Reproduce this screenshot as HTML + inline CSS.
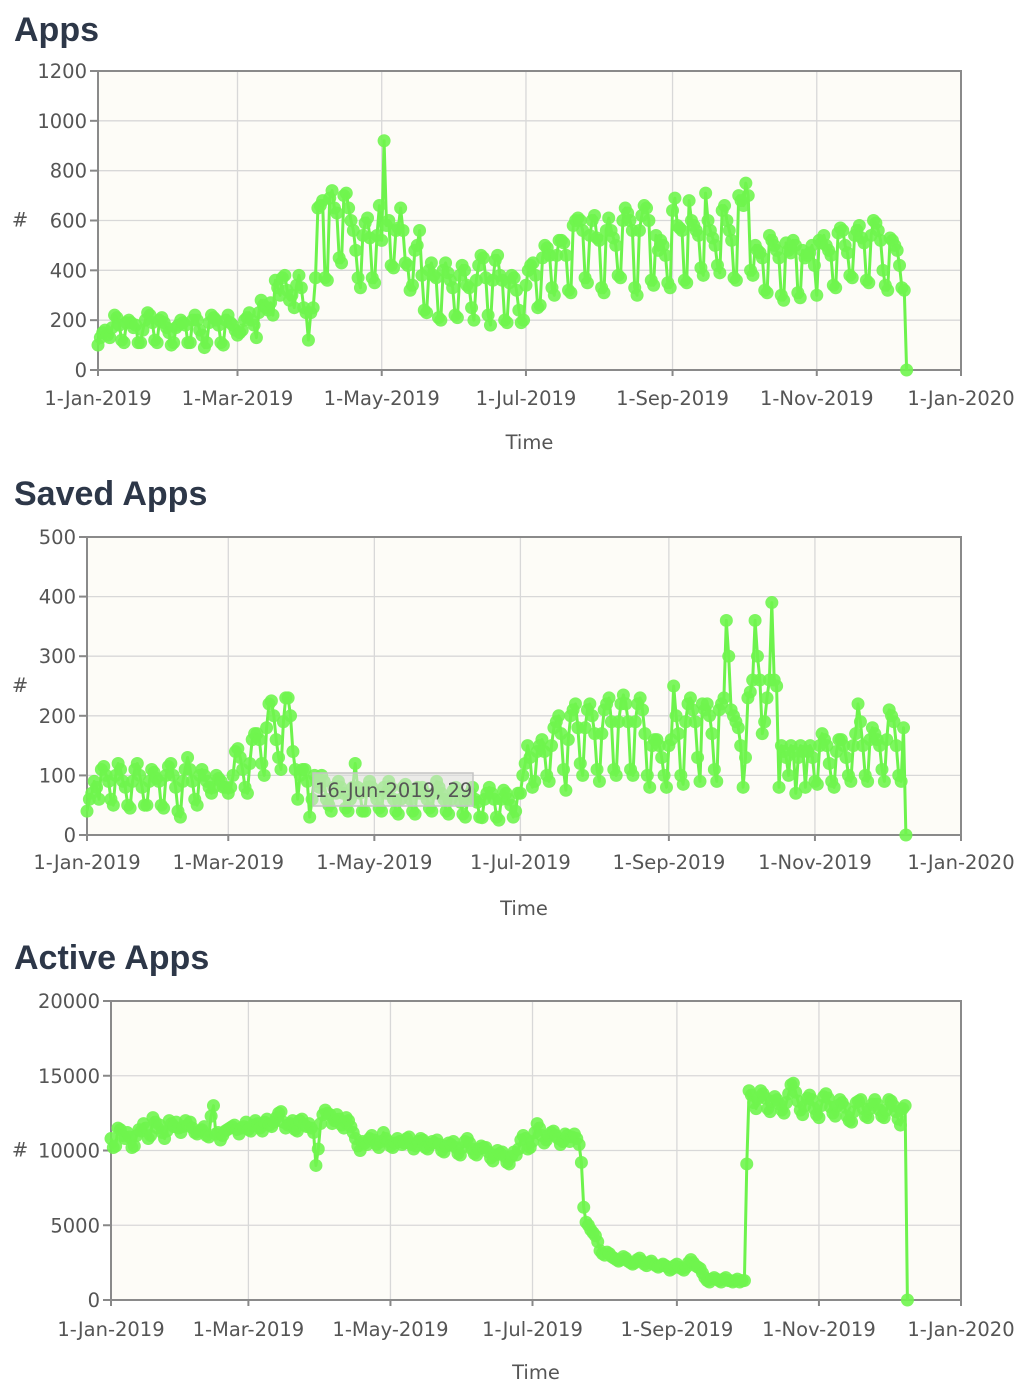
<!DOCTYPE html>
<html><head><meta charset="utf-8">
<style>
html,body{margin:0;padding:0;background:#fff;width:1030px;height:1392px;overflow:hidden}
svg{display:block}
.t{font-family:"Liberation Sans",sans-serif;font-weight:bold;font-size:34px;fill:#2d3748}
.tk{font-family:"DejaVu Sans",sans-serif;font-size:19.5px;fill:#555}
</style></head><body>
<svg id="s" width="1030" height="1392" xmlns="http://www.w3.org/2000/svg">
<text class="t" x="14" y="41">Apps</text>
<text class="t" x="14" y="505">Saved Apps</text>
<text class="t" x="14" y="969">Active Apps</text>
</svg>
<script>
const xTickLabels=["1-Jan-2019","1-Mar-2019","1-May-2019","1-Jul-2019","1-Sep-2019","1-Nov-2019","1-Jan-2020"];
const xTickDays=[0,59,120,181,243,304,365];
const appsTicks=[0,200,400,600,800,1000,1200];
const savedTicks=[0,100,200,300,400,500];
const activeTicks=[0,5000,10000,15000,20000];
const appsValues=[
100,130,150,160,140,130,170,220,210,180,120,110,190,200,190,170,180,110,110,160,200,230,220,190,120,110,200,210,
190,170,150,100,110,170,180,200,190,180,110,110,200,220,200,160,140,90,110,190,220,210,200,180,110,100,200,220,
190,180,160,140,150,160,200,210,230,200,180,130,230,280,260,250,240,270,220,360,330,300,370,380,320,280,300,250,
340,380,330,250,230,120,230,250,370,650,660,680,370,360,690,720,650,630,450,430,700,710,650,600,560,480,370,330,
540,590,610,530,370,350,540,660,520,920,580,600,420,410,560,570,650,560,430,420,320,340,480,500,560,380,240,230,
400,430,380,370,210,200,400,430,390,360,330,220,210,380,420,400,340,330,250,200,360,420,460,450,370,220,180,360,
440,460,380,360,200,190,350,380,370,320,240,190,200,340,400,420,430,380,250,260,450,500,490,460,330,300,460,520,
520,510,460,320,310,580,600,610,600,560,370,350,540,600,620,530,520,330,310,560,610,560,530,500,380,370,600,650,
630,600,560,330,300,560,620,660,650,600,360,340,540,480,520,500,460,350,330,640,690,580,570,560,360,350,680,600,
580,560,540,410,380,710,600,560,530,500,420,390,640,660,600,560,520,370,360,700,680,660,750,700,400,380,500,480,
470,450,320,310,540,520,500,480,450,300,280,510,480,470,520,500,310,290,480,450,460,470,500,420,300,520,510,540,
500,480,460,340,330,550,570,560,500,470,380,370,540,560,580,530,510,360,350,540,600,590,560,520,400,340,320,530,
520,500,480,420,330,320,0];
const savedValues=[
40,60,70,90,80,60,110,115,100,90,60,50,100,120,110,90,80,50,45,90,110,120,100,80,50,50,90,110,
105,95,90,50,45,100,115,120,100,80,40,30,90,110,130,110,90,60,50,100,110,100,90,80,70,80,100,95,
90,80,80,70,80,100,140,145,130,110,80,70,120,160,170,170,160,120,100,180,220,225,200,160,130,110,190,230,
230,200,140,110,60,100,110,110,90,30,60,100,90,80,100,90,60,50,40,80,70,90,80,70,45,40,60,80,
120,80,70,40,40,80,90,80,70,60,45,40,80,70,90,80,60,40,35,60,80,85,70,60,40,35,80,70,
80,70,60,45,40,70,90,80,70,60,40,35,60,75,80,70,55,35,30,60,70,80,60,55,30,29,60,70,
80,70,60,30,25,60,75,70,60,50,30,40,70,70,100,120,150,130,80,90,140,150,160,140,100,90,150,180,
190,200,170,110,75,160,200,210,220,180,120,100,180,210,220,200,170,110,90,170,210,220,230,190,110,100,190,220,
235,220,190,110,100,190,220,230,210,170,100,80,150,160,160,150,130,100,80,150,160,250,200,170,100,85,190,220,
230,210,190,130,90,220,210,220,200,170,110,90,210,220,230,360,300,210,200,190,180,150,80,130,230,240,260,360,
300,260,170,190,230,260,390,260,250,80,150,140,130,100,150,140,70,130,150,140,80,140,150,130,90,85,150,170,
160,150,120,90,80,140,160,160,150,130,100,90,150,170,220,190,150,100,90,160,180,170,160,150,110,90,160,210,
200,190,150,100,90,180,0];
const activeValues=[
10800,10200,10300,11500,11400,11000,10800,11200,10900,10200,10300,11000,11400,11300,
11800,11500,10800,11000,12200,11900,11500,11700,11200,10800,11300,12000,11800,11600,
11900,11500,11200,11600,12000,11700,11900,11500,11200,11100,11300,11400,11600,11000,
10900,12300,13000,11100,11200,10700,11000,11300,11400,11500,11600,11700,11400,11100,
11500,11600,11900,11400,11300,11700,12000,11800,11500,11300,11900,12100,11700,11600,
11900,12200,12500,12600,11900,11500,11700,11800,12000,11400,11300,12000,12100,11700,
11600,11800,11500,11200,9000,10100,11800,12400,12700,12500,12400,11800,12000,12400,
12100,11700,11500,12200,12000,11600,11200,10800,10300,10000,10600,10500,10400,10800,
11000,10700,10400,10200,10600,11200,10800,10600,10300,10200,10500,10800,10600,10400,
10500,10800,10900,10400,10100,10300,10600,10800,10700,10200,10100,10400,10600,10500,
10700,10400,10000,9900,10300,10500,10400,10600,10200,9800,9700,10200,10600,10800,
10500,10100,9800,9700,10100,10300,10200,10200,9900,9500,9300,9700,10000,9800,
9900,9600,9200,9100,9600,9900,9700,10100,10700,11000,10800,10100,10200,10600,
11200,11800,11500,11000,10500,10700,11000,11200,11300,11000,10800,10400,10600,11100,
11000,10600,10900,11100,10800,10400,9200,6200,5200,5000,4700,4500,4300,3900,
3300,3100,3000,3200,3100,2900,2800,2700,2600,2700,2900,2800,2600,2500,
2400,2500,2700,2800,2600,2400,2300,2500,2600,2400,2300,2200,2300,2400,
2300,2200,2000,2100,2300,2400,2200,2100,2000,2200,2500,2700,2500,2300,
2200,2100,1800,1500,1300,1200,1400,1500,1400,1300,1200,1400,1500,1300,
1300,1200,1300,1400,1200,1300,1300,9100,14000,13700,13200,12800,13500,14000,
13800,13500,12800,12600,13300,13600,13400,13100,12700,12500,13200,13800,14400,14500,
13900,13300,12700,12400,13000,13500,13700,13400,12800,12400,12200,13000,13600,13800,
13500,12900,12500,12300,13000,13400,13200,12900,12300,12000,11900,12600,13200,13300,
13400,12800,12300,12200,12800,13100,13400,13100,12700,12300,12200,12700,13400,13300,
13000,12600,12100,11700,12800,13000,0];

const svg=document.getElementById('s');
const NS='http://www.w3.org/2000/svg';
function el(tag,attrs,parent){const e=document.createElementNS(NS,tag);for(const k in attrs)e.setAttribute(k,attrs[k]);(parent||svg).appendChild(e);return e;}

function drawChart(prefix,values,yTicks,L,T,R,B,tickY,timeY){
  const g=el('g',{});
  
  
  const yMax=yTicks[yTicks.length-1];
  const xs=d=>L+(R-L)*d/365;
  const ys=v=>B-(B-T)*v/yMax;
  const bg=el('rect',{x:L,y:T,width:R-L,height:B-T,fill:'#fdfcf7'},g);
  
  
  yTicks.forEach(v=>{
    const y=ys(v);
    if(v>0&&v<yMax) el('line',{x1:L,x2:R,y1:y,y2:y,stroke:'#d8d8d8','stroke-width':1.3},g);
    el('line',{x1:L-8,x2:L,y1:y,y2:y,stroke:'#888','stroke-width':2},g);
    const t=el('text',{x:L-11,y:y+7,'text-anchor':'end',class:'tk'},g);
    t.textContent=v;
    
    
  });
  xTickDays.forEach((d,i)=>{
    const x=xs(d);
    if(d>0&&d<365) el('line',{x1:x,x2:x,y1:T,y2:B,stroke:'#d8d8d8','stroke-width':1.3},g);
    el('line',{x1:x,x2:x,y1:B,y2:B+6,stroke:'#888','stroke-width':2},g);
    const t=el('text',{x:x,y:tickY,'text-anchor':'middle',class:'tk'},g);
    t.textContent=xTickLabels[i];
    
    
  });
  el('rect',{x:L,y:T,width:R-L,height:B-T,fill:'none',stroke:'#8a8a8a','stroke-width':2},g);
  const pts=values.map((v,i)=>xs(i).toFixed(1)+','+ys(v).toFixed(1)).join(' ');
  const line=el('polyline',{points:pts,fill:'none',stroke:'#6df34c','stroke-width':3,'stroke-linejoin':'round'},g);
  
  
  values.forEach((v,i)=>{
    const c=el('circle',{cx:xs(i),cy:ys(v),r:6.5,fill:'#6ff54e','fill-opacity':0.9},g);
    
    
  });
  const yl=el('text',{x:20,y:(T+B)/2+6,'text-anchor':'middle',class:'tk'},g);
  yl.textContent='#';
  
  
  const xl=el('text',{x:(L+R)/2,y:timeY,'text-anchor':'middle',class:'tk'},g);
  xl.textContent='Time';
  
  
  return g;
}
drawChart('apps',appsValues,appsTicks,98,71,961,370,405,449);
const g2=drawChart('saved-apps',savedValues,savedTicks,87,537,961,835,869,915);
drawChart('active-apps',activeValues,activeTicks,111,1001,961,1300,1336,1379);
const tip=el('g',{},g2);


el('rect',{x:313,y:773,width:160,height:33,fill:'#dcdcdc','fill-opacity':0.55,stroke:'#c4c4c4','stroke-width':1.5},tip);
const tt=el('text',{x:315,y:797,class:'tk',style:'fill:#555'},tip);
tt.textContent='16-Jun-2019, 29';
</script>
</body></html>
